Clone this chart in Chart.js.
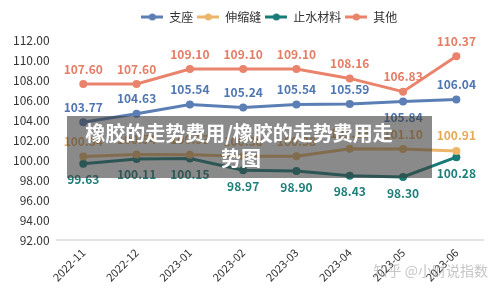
<!DOCTYPE html>
<html>
<head>
<meta charset="utf-8">
<script src="https://cdn.jsdelivr.net/npm/chart.js@4.4.1/dist/chart.umd.min.js"></script>
<style>
  html, body { margin: 0; padding: 0; background: #fff; }
  #wrap { width: 500px; height: 295px; }
</style>
</head>
<body>
<div id="wrap"><canvas id="c" width="500" height="295"></canvas></div>
<script>
// ## data ##########################################################
const months   = ['2022-11', '2022-12', '2023-01', '2023-02', '2023-03', '2023-04', '2023-05', '2023-06'];
const bearing  = [103.77, 104.63, 105.54, 105.24, 105.54, 105.59, 105.84, 106.04];  // 支座
const joint    = [100.34, 100.54, 100.53, 100.38, 100.38, 101.13, 101.10, 100.91];  // 伸缩缝
const waterstop= [99.63, 100.11, 100.15, 98.97, 98.90, 98.43, 98.30, 100.28];       // 止水材料
const other    = [107.60, 107.60, 109.10, 109.10, 109.10, 108.16, 106.83, 110.37];  // 其他
const yTicks   = [92, 94, 96, 98, 100, 102, 104, 106, 108, 110, 112];

const FONT = '"Noto Sans CJK SC", "Noto Sans", sans-serif';

// small line+dot icon for the legend
function lineDot(color) {
  const cv = document.createElement('canvas');
  cv.width = 22; cv.height = 8;
  const g = cv.getContext('2d');
  g.strokeStyle = color; g.lineWidth = 3;
  g.beginPath(); g.moveTo(0, 4); g.lineTo(22, 4); g.stroke();
  g.fillStyle = color;
  g.beginPath(); g.arc(11, 4, 3.5, 0, Math.PI * 2); g.fill();
  return cv;
}

function series(label, data, color, labelColor, pos) {
  return {
    label, data,
    borderColor: color, backgroundColor: color,
    borderWidth: 3, pointRadius: 4, pointHoverRadius: 4,
    pointBackgroundColor: color, pointBorderWidth: 0,
    tension: 0, labelColor, labelPos: pos
  };
}

// ## plugins #######################################################
// value labels above / below each point
const valueLabels = {
  id: 'valueLabels',
  afterDatasetsDraw(chart) {
    const c = chart.ctx;
    c.save();
    c.font = 'bold 12px ' + FONT;
    c.textAlign = 'center';
    c.textBaseline = 'middle';
    chart.data.datasets.forEach((ds, i) => {
      const meta = chart.getDatasetMeta(i);
      meta.data.forEach((pt, j) => {
        const below = typeof ds.labelPos === 'function' ? ds.labelPos(j) : ds.labelPos === 'below';
        c.fillStyle = ds.labelColor;
        c.fillText(ds.data[j].toFixed(2), pt.x, pt.y + (below ? 16 : -15));
      });
    });
    c.restore();
  }
};

// centered legend over the plot area
const topLegend = {
  id: 'topLegend',
  afterDraw(chart) {
    const c = chart.ctx, a = chart.chartArea;
    c.save();
    c.font = '12px ' + FONT;
    c.textBaseline = 'middle';
    const items = chart.data.datasets.map(ds => ({ ds, w: 29 + c.measureText(ds.label).width }));
    const gap = 3;
    const total = items.reduce((s, it) => s + it.w, 0) + gap * (items.length - 1);
    let x = (a.left + a.right) / 2 - total / 2;
    const y = 17;
    items.forEach(it => {
      c.drawImage(lineDot(it.ds.borderColor), x, y - 4);
      c.fillStyle = '#333';
      c.fillText(it.ds.label, x + 28, y);
      x += it.w + gap;
    });
    c.restore();
  }
};

// grey title band + watermark on top of everything
const overlay = {
  id: 'overlay',
  afterDraw(chart) {
    const c = chart.ctx;
    c.save();
    c.fillStyle = 'rgba(60,60,60,0.6)';
    c.fillRect(67, 116, 365, 62);
    c.fillStyle = '#fff';
    c.font = 'bold 20px ' + FONT;
    c.textAlign = 'center';
    c.textBaseline = 'middle';
    c.fillText('橡胶的走势费用/橡胶的走势费用走', 239, 133);
    c.fillText('势图', 241, 158);
    c.font = '14px ' + FONT;
    c.fillStyle = 'rgba(150,150,150,0.55)';
    c.textAlign = 'right';
    c.fillText('知乎 @小财说指数', 488, 271);
    c.restore();
  }
};

// ## chart #########################################################
new Chart(document.getElementById('c').getContext('2d'), {
  type: 'line',
  data: {
    labels: months,
    datasets: [
      series('支座', bearing, '#5b7fb5', '#4f76b0', j => j === 6),
      series('伸缩缝', joint, '#ecb569', '#e5aa58', 'above'),
      series('止水材料', waterstop, '#177b77', '#1d7e7a', 'below'),
      series('其他', other, '#e9836c', '#e57c64', 'above')
    ]
  },
  options: {
    responsive: false,
    animation: false,
    layout: { padding: { top: 40, left: 6, right: 17, bottom: 2 } },
    plugins: {
      legend: { display: false },
      tooltip: { enabled: false }
    },
    scales: {
      x: {
        offset: true,
        grid: { display: false, drawTicks: false },
        border: { display: true, color: '#e3e3e3', width: 2 },
        afterFit: ax => { ax.height = 53; },
        ticks: {
          color: '#333', font: { family: FONT, size: 11 },
          minRotation: 45, maxRotation: 45, padding: 6
        }
      },
      y: {
        min: 92, max: 112,
        afterBuildTicks: ax => { ax.ticks = yTicks.map(v => ({ value: v })); },
        grid: { display: false, drawTicks: false },
        border: { display: false },
        ticks: {
          color: '#333', font: { family: FONT, size: 12 }, padding: 7,
          callback: v => Number(v).toFixed(2)
        }
      }
    }
  },
  plugins: [valueLabels, topLegend, overlay]
});
</script>
</body>
</html>
